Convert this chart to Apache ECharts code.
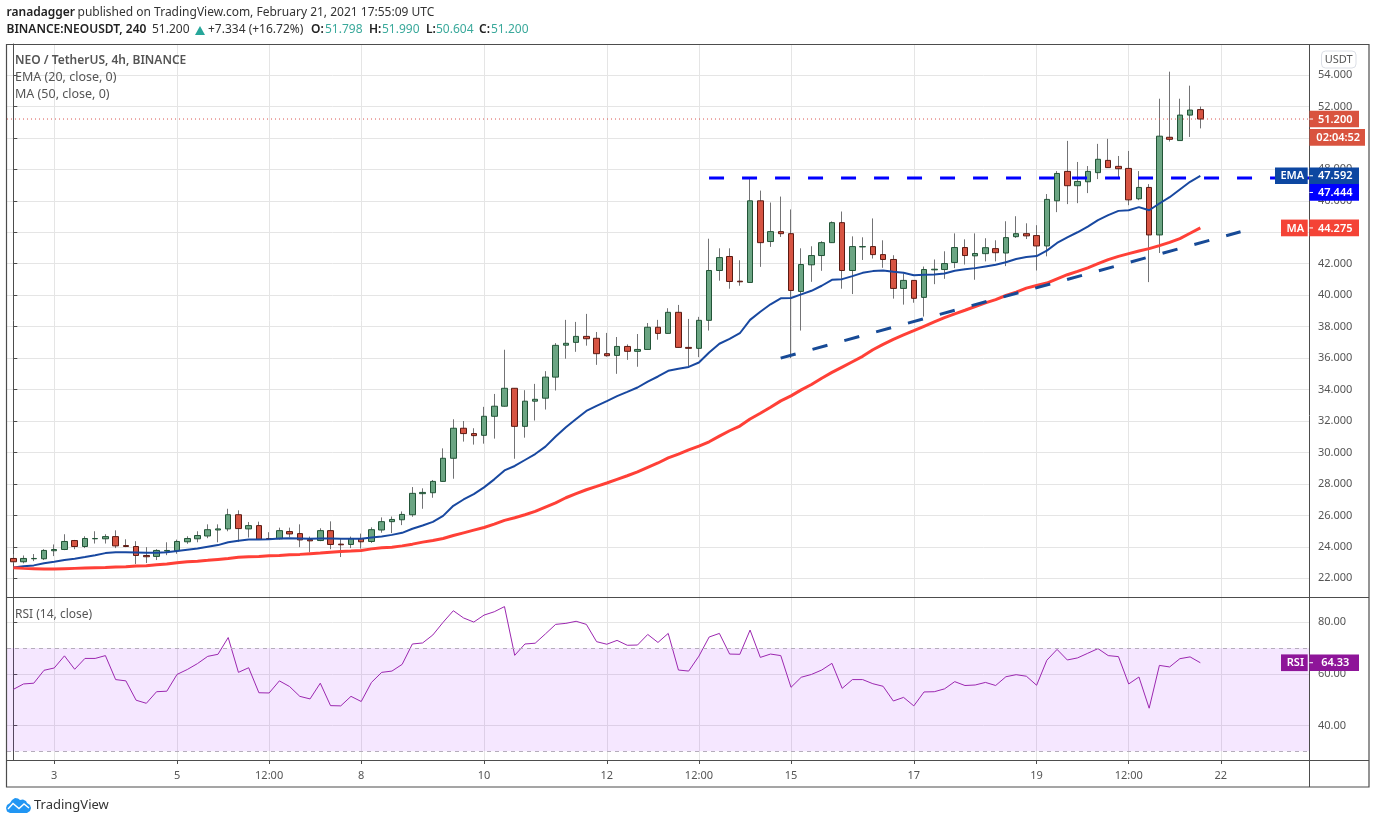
<!DOCTYPE html>
<html><head><meta charset="utf-8">
<style>html,body{margin:0;padding:0;background:#fff}#c{width:1376px;height:824px}</style>
<script src="https://cdn.jsdelivr.net/npm/echarts@6/dist/echarts.min.js"></script>
</head><body><div id="c"></div>
<script>
const opens=[23.26,23.05,23.24,23.24,23.75,23.83,24.40,24.02,24.51,24.51,
24.65,24.08,24.02,23.45,23.39,23.73,23.75,24.32,24.51,24.69,
25.07,25.14,26.04,25.14,25.35,24.53,24.51,24.97,24.84,24.46,
24.40,25.03,24.17,24.15,24.53,24.34,25.07,25.60,25.72,26.04,
27.38,27.44,28.16,29.63,31.54,31.20,31.09,32.30,32.94,34.08,
31.66,33.26,33.45,34.79,36.82,37.00,37.38,37.26,36.28,36.17,
36.74,36.43,36.55,37.96,37.57,38.91,36.68,36.62,38.40,41.57,
42.46,40.89,40.81,46.00,43.41,44.04,43.91,40.24,41.93,42.52,
43.34,44.61,41.57,43.07,43.09,42.58,42.27,40.43,40.94,39.86,
41.61,41.63,42.08,43.03,42.50,42.64,42.96,42.68,43.72,43.91,
43.79,43.13,46.00,47.87,46.96,47.21,47.79,48.57,48.19,48.06,
46.13,46.85,43.83,50.04,49.83,51.45,51.798];
const closes=[23.05,23.26,23.26,23.77,23.83,24.34,24.02,24.53,24.53,24.65,
24.06,24.02,23.45,23.37,23.77,23.77,24.34,24.53,24.72,25.09,
25.14,26.04,25.16,25.35,24.48,24.48,25.03,24.82,24.44,24.38,
25.03,24.15,24.13,24.53,24.32,25.09,25.60,25.74,26.06,27.40,
27.46,28.16,29.63,31.54,31.20,31.07,32.30,32.94,34.08,31.66,
33.26,33.38,34.79,36.81,36.94,37.38,37.23,36.28,36.15,36.74,
36.43,36.55,37.96,37.57,38.91,36.68,36.62,38.40,41.57,42.39,
40.87,40.85,46.00,43.34,44.04,43.91,40.30,41.95,42.52,43.34,
44.61,41.57,43.09,43.09,42.58,42.27,40.43,40.94,39.80,41.63,
41.65,42.01,43.03,42.52,42.65,43.02,42.70,43.66,43.91,43.77,
43.13,46.09,47.74,46.96,47.23,47.87,48.64,48.11,48.04,46.06,
46.85,43.83,50.11,49.91,51.45,51.77,51.20];
const highs=[23.54,23.45,23.54,23.85,24.15,24.80,24.44,24.67,24.99,24.80,
25.05,24.48,24.36,23.98,23.85,24.29,24.46,24.67,24.99,25.43,
25.43,26.42,26.32,25.58,25.60,24.93,25.22,25.22,25.43,24.65,
25.18,25.62,24.53,24.65,24.84,25.24,25.87,25.93,26.25,27.80,
27.72,28.25,30.26,32.11,32.00,31.54,32.90,33.72,36.53,34.08,
33.96,34.36,35.17,36.95,38.43,38.30,38.81,37.66,37.60,37.34,
36.87,37.53,38.23,38.43,39.17,39.38,38.49,38.62,43.59,42.98,
42.98,42.22,47.40,46.65,45.89,46.27,45.45,42.98,43.11,43.43,
44.69,45.32,43.74,43.68,44.88,43.49,42.54,41.38,40.94,41.82,
42.27,42.79,43.93,43.55,43.93,43.62,43.49,44.70,45.02,44.57,
44.45,46.43,47.89,49.81,48.47,48.21,49.62,49.94,48.85,49.17,
47.89,47.06,52.49,54.21,52.49,53.32,51.99];
const lows=[22.95,22.95,23.09,23.16,23.41,23.79,23.85,23.92,24.21,24.21,
23.92,23.98,22.91,22.97,23.16,23.47,23.56,24.19,24.29,24.55,
24.29,24.99,24.32,24.59,24.46,24.44,24.46,24.61,23.98,23.66,
24.36,23.85,23.35,23.92,23.89,24.25,24.90,24.87,25.38,25.91,
26.42,27.12,28.14,28.33,30.69,30.50,30.56,30.88,32.92,29.60,
30.94,32.03,32.73,33.94,35.96,36.40,36.79,35.57,36.09,35.00,
35.89,35.45,36.55,37.17,37.57,36.66,35.45,36.06,37.75,40.92,
40.41,40.60,40.81,41.80,43.07,43.70,36.00,37.75,40.85,41.55,
43.32,40.41,40.07,42.24,42.33,41.74,39.78,39.40,39.52,38.64,
40.70,41.04,41.72,41.95,40.98,42.15,42.15,41.85,43.64,43.57,
41.57,42.47,45.28,45.79,45.85,46.49,47.38,48.09,47.49,45.72,
46.04,40.83,42.68,49.77,49.90,50.06,50.604];
const emaValues=[22.69,22.76,22.82,22.95,23.05,23.16,23.24,23.35,23.47,23.60,
23.66,23.66,23.64,23.62,23.62,23.66,23.73,23.81,23.89,24.00,
24.11,24.29,24.38,24.46,24.46,24.48,24.53,24.55,24.53,24.51,
24.53,24.53,24.51,24.51,24.51,24.59,24.66,24.76,24.89,25.15,
25.36,25.59,25.97,26.61,27.01,27.35,27.78,28.29,28.86,29.14,
29.52,29.90,30.37,31.01,31.60,32.13,32.64,32.96,33.26,33.58,
33.85,34.13,34.51,34.83,35.19,35.32,35.44,35.72,36.36,36.91,
37.22,37.58,38.43,38.95,39.42,39.80,39.82,40.05,40.28,40.60,
40.98,41.02,41.21,41.42,41.53,41.57,41.49,41.42,41.27,41.30,
41.32,41.38,41.55,41.65,41.72,41.83,41.94,42.09,42.30,42.43,
42.49,42.83,43.32,43.68,44.00,44.36,44.77,45.09,45.36,45.40,
45.60,45.40,45.83,46.23,46.72,47.21,47.59];
const maValues=[22.67,22.63,22.61,22.59,22.59,22.61,22.63,22.65,22.67,22.69,
22.72,22.74,22.78,22.80,22.86,22.91,22.99,23.05,23.09,23.14,
23.20,23.26,23.33,23.37,23.39,23.43,23.45,23.49,23.52,23.56,
23.60,23.66,23.71,23.73,23.77,23.87,23.94,23.98,24.06,24.17,
24.30,24.40,24.53,24.72,24.89,25.06,25.23,25.44,25.68,25.85,
26.04,26.25,26.53,26.80,27.12,27.38,27.63,27.84,28.06,28.29,
28.52,28.76,29.05,29.33,29.65,29.90,30.16,30.40,30.68,31.04,
31.38,31.68,32.13,32.49,32.87,33.28,33.60,33.98,34.32,34.72,
35.09,35.43,35.77,36.11,36.53,36.87,37.19,37.47,37.74,38.02,
38.30,38.57,38.81,39.04,39.28,39.51,39.72,39.98,40.19,40.45,
40.62,40.77,41.04,41.30,41.51,41.74,42.00,42.26,42.47,42.64,
42.81,42.96,43.15,43.36,43.60,43.94,44.275];
const rsiValues=[54.0,56.1,56.4,61.4,62.3,67.0,61.8,66.0,66.0,67.1,
57.8,57.3,49.8,48.6,53.1,53.3,59.8,61.7,64.0,66.8,
67.6,74.1,60.6,62.4,52.7,52.6,57.3,55.1,51.3,50.3,
56.4,47.7,47.6,51.3,49.3,56.7,60.6,61.1,63.7,71.6,
72.0,75.1,80.0,84.5,81.7,80.1,82.8,84.1,86.1,67.2,
71.6,71.9,75.5,79.2,79.6,80.4,79.2,72.5,71.5,73.0,
71.1,71.2,75.3,72.2,75.7,61.5,61.1,66.9,74.3,75.7,
67.7,67.6,77.0,66.4,67.7,67.1,54.8,58.7,59.8,61.5,
64.1,54.4,57.8,57.8,56.2,55.2,49.5,50.9,47.6,53.0,
53.1,54.2,57.0,55.5,55.7,56.7,55.5,58.9,59.7,59.1,
55.6,65.3,69.5,65.4,66.2,68.0,69.8,67.1,66.7,56.1,
58.8,46.7,63.3,62.7,65.9,66.6,64.33];
const timeTickIndex=[4,16,25,34,46,58,67,76,88,100,109,118];
const timeTickLabels=['3','5','12:00','8','10','12','12:00','15','17','19','12:00','22'];
const priceTicks=[22,24,26,28,30,32,34,36,38,40,42,44,46,48,50,52,54];
const rsiTicks=[40,60,80];
const resistanceLevel=47.444, resistanceStart=67.99, chartEnd=126.62;
const trendX=[74.99,119.93], trendY=[36.0,44.03];
const lastPrice=51.2, lastEma=47.592, lastMa=44.275, lastRsi=64.33;

const FONT='"Noto Sans", sans-serif';
const GREY='#555';
const AXIS='#4d4d4d', GRID='#e5e5e5';
const L=7, T=44, W=1302, H1=553, H2=163, T2=597;
const xMin=-0.616, xMax=chartEnd;

const idx=opens.map((_,i)=>i);
const wickData=idx.map(i=>[i,opens[i],closes[i],lows[i],highs[i]]);
const bodyData=idx.map(i=>[i,opens[i],closes[i],Math.min(opens[i],closes[i]),Math.max(opens[i],closes[i])]);
const xy=a=>a.map((v,i)=>[i,v]);
const fmtTime=v=>{const k=timeTickIndex.indexOf(v);return k<0?'':timeTickLabels[k];};

const chart=echarts.init(document.getElementById('c'),null,{renderer:'canvas',width:1376,height:824});
const xBase={type:'value',min:xMin,max:xMax,
  axisLine:{show:true,onZero:false,lineStyle:{color:AXIS,width:1}},
  splitLine:{show:true,lineStyle:{color:GRID,width:1}}};
const yBase={type:'value',position:'right',scale:true,
  axisLine:{show:true,lineStyle:{color:AXIS,width:1}},
  splitLine:{show:true,lineStyle:{color:GRID,width:1}}};
const simpleLine=(name,data,color,width,extra)=>Object.assign({name,type:'line',data,symbol:'none',showSymbol:false,
  silent:true,animation:false,lineStyle:{color,width},xAxisIndex:0,yAxisIndex:0},extra||{});

chart.setOption({
  animation:false,backgroundColor:'#fff',
  textStyle:{fontFamily:FONT},
  grid:[{left:L,top:T,width:W,height:H1,show:false},{left:L,top:T2,width:W,height:H2,show:false}],
  xAxis:[
    Object.assign({},xBase,{gridIndex:0,axisTick:{show:false,customValues:timeTickIndex},axisLabel:{show:false,customValues:timeTickIndex}}),
    Object.assign({},xBase,{gridIndex:1,
      axisTick:{show:true,length:4,lineStyle:{color:AXIS},customValues:timeTickIndex},
      axisLabel:{show:true,customValues:timeTickIndex,formatter:fmtTime,color:GREY,fontSize:11,fontFamily:FONT,margin:10}})
  ],
  yAxis:[
    Object.assign({},yBase,{gridIndex:0,min:20.81,max:55.97,
      axisTick:{show:true,length:4,lineStyle:{color:AXIS},customValues:priceTicks},
      axisLabel:{show:true,customValues:priceTicks,formatter:v=>v.toFixed(3),color:GREY,fontSize:11,fontFamily:FONT,margin:9,padding:[2,0,0,0]}}),
    Object.assign({},yBase,{gridIndex:1,min:26.62,max:89.82,
      axisTick:{show:true,length:4,lineStyle:{color:AXIS},customValues:rsiTicks},
      axisLabel:{show:true,customValues:rsiTicks,formatter:v=>v.toFixed(2),color:GREY,fontSize:11,fontFamily:FONT,margin:9,padding:[2,0,0,0]}})
  ],
  series:[
    {name:'RSI',type:'line',xAxisIndex:1,yAxisIndex:1,data:xy(rsiValues),symbol:'none',showSymbol:false,silent:true,
      lineStyle:{color:'#9c27b0',width:1},z:4,
      markArea:{silent:true,itemStyle:{color:'rgba(153,21,255,0.10)'},data:[[{yAxis:30,x:L},{yAxis:70,x:L+W}]]},
      markLine:{silent:true,symbol:'none',label:{show:false},lineStyle:{color:'#b5adbb',type:[4,4],width:1},data:[{yAxis:70},{yAxis:30}]}},
    {name:'Wicks',type:'candlestick',xAxisIndex:0,yAxisIndex:0,data:wickData,barWidth:1,silent:true,z:2,
      itemStyle:{color:'#737375',color0:'#737375',borderColor:'#737375',borderColor0:'#737375',borderWidth:1}},
    {name:'Bodies',type:'candlestick',xAxisIndex:0,yAxisIndex:0,data:bodyData,barWidth:6,silent:true,z:3,
      itemStyle:{color:'#6ba583',color0:'#d75442',borderColor:'#225437',borderColor0:'#5b1a13',borderWidth:1}},
    simpleLine('EMA (20, close, 0)',xy(emaValues),'#1848a0',2,{z:4}),
    simpleLine('MA (50, close, 0)',xy(maValues),'#ff4037',3,{z:4}),
    simpleLine('Last price',[[xMin,lastPrice],[xMax,lastPrice]],'#d9534f',1,{z:4,lineStyle:{color:'#d9534f',width:1,type:[1,3]}}),
    simpleLine('Resistance',[[resistanceStart,resistanceLevel],[xMax,resistanceLevel]],'#0000ff',3,{z:5,lineStyle:{color:'#0000ff',width:3,type:[15,18]}}),
    simpleLine('Trendline',[[trendX[0],trendY[0]],[trendX[1],trendY[1]]],'#174a96',3,{z:5,lineStyle:{color:'#174a96',width:3,type:[15.5,17.5]}})
  ]
});

const yMain=v=>chart.convertToPixel({yAxisIndex:0},v);
const yRsi=v=>chart.convertToPixel({yAxisIndex:1},v);
const TAG_H=16.7;
function tag(text,cy,x,w,fill){
  return [
    {type:'rect',z:50,shape:{x,y:cy-TAG_H/2,width:w,height:TAG_H},style:{fill}},
    {type:'text',z:51,style:{text,x:x+w/2+1,y:cy+0.5,fill:'#fff',font:'600 11px '+FONT,align:'center',verticalAlign:'middle'}}
  ];
}
function tickMark(cy){return {type:'line',z:52,shape:{x1:1309.5,y1:cy,x2:1313,y2:cy},style:{stroke:'#fff',lineWidth:1}};}
function text(t,x,y,opt){return {type:'text',z:60,style:Object.assign({text:t,x,y,fill:GREY,font:'12px '+FONT,verticalAlign:'middle'},opt||{})};}
const R={fontFamily:FONT,fontSize:12};
const cEma=yMain(lastEma), cMa=yMain(lastMa), cPrice=yMain(lastPrice), cRsi=yRsi(lastRsi);
const blueY=cEma+16.7;
const DARK={fill:'#222',font:'600 12px '+FONT};
const BODY={fill:'#333',font:'12px '+FONT};
const VAL={fill:'#3aa99b',font:'12px '+FONT};
const g=[
  {type:'rect',z:40,shape:{x:6.5,y:44.5,width:1362.5,height:742.5},style:{fill:'none',stroke:AXIS,lineWidth:1.2}},
  {type:'line',z:40,shape:{x1:1309.5,y1:44,x2:1309.5,y2:787},style:{stroke:AXIS,lineWidth:1}},
  {type:'line',z:40,shape:{x1:6.5,y1:597.5,x2:1369,y2:597.5},style:{stroke:AXIS,lineWidth:1.2}},
  {type:'line',z:40,shape:{x1:6.5,y1:760.5,x2:1369,y2:760.5},style:{stroke:AXIS,lineWidth:1.2}},
  ...tag('51.200',cPrice,1309.5,49.5,'#d9533f'),
  ...tag('02:04:52',137.4,1309.5,55.5,'#d9533f'),
  ...tag('EMA',cEma,1275,32.7,'#0d47a1'),
  ...tag('47.592',cEma,1309.5,49.5,'#0d47a1'),
  ...tag('47.444',blueY,1309.5,49.5,'#0000ff'),
  ...tag('MA',cMa,1281,26.7,'#f44336'),
  ...tag('44.275',cMa,1309.5,49.5,'#f44336'),
  ...tag('RSI',cRsi,1281,26.7,'#8e1599'),
  ...tag('64.33',cRsi,1309.5,49.5,'#8e1599'),
  tickMark(cPrice),tickMark(cEma),tickMark(blueY),tickMark(cMa),tickMark(cRsi),
  {type:'rect',z:60,shape:{x:1321.5,y:51,width:34.5,height:17,r:4},style:{fill:'#fff',stroke:'#dcdfe6',lineWidth:1}},
  text('USDT',1338.7,59.8,{align:'center',font:'11px '+FONT}),
  text('ranadagger',6.5,12.5,DARK),
  text('published on TradingView.com, February 21, 2021 17:55:09 UTC',77.5,12.5,BODY),
  text('BINANCE:NEOUSDT, 240',6.5,30,DARK),
  text('51.200',152,30,BODY),
  {type:'polygon',z:60,shape:{points:[[195,35],[200,26],[205,35]]},style:{fill:'#26a69a'}},
  text('+7.334 (+16.72%)',208,30,BODY),
  text('O:',311,30,DARK), text('51.798',325,30,VAL),
  text('H:',369,30,DARK), text('51.990',382,30,VAL),
  text('L:',426,30,DARK), text('50.604',436,30,VAL),
  text('C:',479,30,DARK), text('51.200',491,30,VAL),
  text('NEO / TetherUS, 4h, BINANCE',15,60.5,{font:'600 12px '+FONT}),
  text('EMA (20, close, 0)',15,77.5,{font:'12.5px '+FONT}),
  text('MA (50, close, 0)',15,94.5,{font:'12.5px '+FONT}),
  text('RSI (14, close)',15,615),
  {type:'polygon',z:60,shape:{points:[[6,808],[7,805],[10,803],[12,800],[15,798],[18,798.5],[20,800],[23,799.5],[26,801],[27,803],[30,805],[31,808],[30,811],[27,813],[10,813],[7,811.5]]},style:{fill:'#2196f3'}},
  {type:'polyline',z:61,shape:{points:[[8,809],[13,803.5],[19,808.5],[24,804],[29,808]]},style:{stroke:'#fff',lineWidth:1.4,fill:'none'}},
  text('TradingView',34,805.5,{font:'13px '+FONT,fill:'#333'})
];
chart.setOption({graphic:{elements:g}});
</script></body></html>
